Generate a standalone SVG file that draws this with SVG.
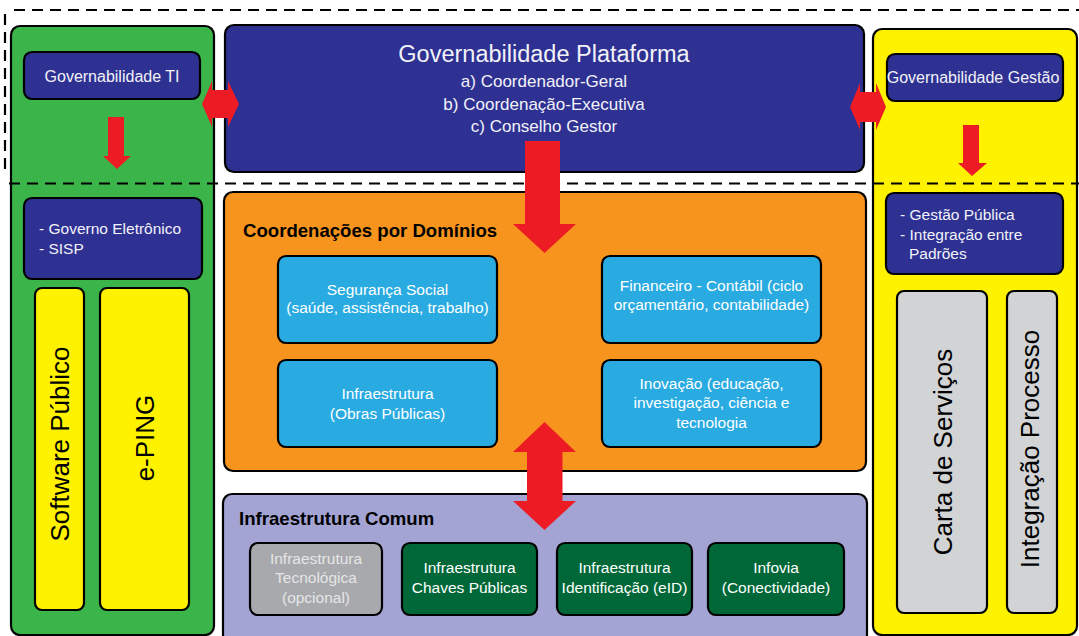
<svg xmlns="http://www.w3.org/2000/svg" width="1079" height="636" viewBox="0 0 1079 636">
<style>
  .box { stroke: #000; stroke-width: 2.2; }
  .navy { fill: #2E3192; }
  .t { font-family: "Liberation Sans", Arial, sans-serif; }
  .wt { fill: #F2F2F8; }
  .dash { stroke: #000; stroke-width: 2.2; stroke-dasharray: 11 7; fill: none; }
  .arrow { fill: #ED1C24; }
  .lb { fill: #29ABE2; }
  .dg { fill: #006838; }
</style>
<rect x="0" y="0" width="1079" height="636" fill="#fff"/>

<!-- big containers -->
<g id="ti-column">
  <rect class="box" x="11" y="26" width="203" height="609" rx="9" fill="#3BB54A"/>
</g>
<g id="gestao-column">
  <rect class="box" x="873" y="29" width="204" height="606" rx="9" fill="#FFF200"/>
</g>
<g id="plataforma">
  <rect class="box navy" x="225" y="25" width="639" height="147" rx="9"/>
  <text class="t wt" x="544" y="62" font-size="23.5" text-anchor="middle">Governabilidade Plataforma</text>
  <text class="t wt" x="544" y="87" font-size="17" text-anchor="middle">a) Coordenador-Geral</text>
  <text class="t wt" x="544" y="110" font-size="17" text-anchor="middle">b) Coordenação-Executiva</text>
  <text class="t wt" x="544" y="132" font-size="17" text-anchor="middle">c) Conselho Gestor</text>
</g>
<g id="coordenacoes">
  <rect class="box" x="224" y="192" width="642" height="279" rx="9" fill="#F7941D"/>
  <text class="t" x="243" y="237" font-size="18.6" font-weight="bold" fill="#000">Coordenações por Domínios</text>
</g>
<g id="infra-comum">
  <rect class="box" x="223" y="494" width="644" height="150" rx="9" fill="#A3A4D3"/>
  <text class="t" x="239" y="525" font-size="18.6" font-weight="bold" fill="#000">Infraestrutura Comum</text>
</g>

<!-- dashed frame -->
<g id="dashed-lines">
  <line class="dash" x1="14" y1="10" x2="1079" y2="10"/>
  <line class="dash" x1="5" y1="14" x2="5" y2="176"/>
  <line class="dash" x1="9" y1="183.5" x2="1079" y2="183.5"/>
</g>

<!-- inner nodes -->
<g id="gov-ti">
  <rect class="box navy" x="24" y="52" width="176" height="47" rx="8"/>
  <text class="t wt" x="112" y="82" font-size="16" text-anchor="middle">Governabilidade TI</text>
</g>
<g id="gov-eletronico">
  <rect class="box navy" x="24" y="198" width="178" height="81" rx="8"/>
  <text class="t wt" x="39" y="234" font-size="15.5">- Governo Eletrônico</text>
  <text class="t wt" x="39" y="254" font-size="15.5">- SISP</text>
</g>
<g id="software-publico">
  <rect class="box" x="35" y="288" width="49" height="322" rx="7" fill="#FFF200"/>
  <text class="t" transform="translate(69,444) rotate(-90)" font-size="26" text-anchor="middle" fill="#000">Software Público</text>
</g>
<g id="e-ping">
  <rect class="box" x="100" y="288" width="89" height="322" rx="7" fill="#FFF200"/>
  <text class="t" transform="translate(154,438) rotate(-90)" font-size="26" text-anchor="middle" fill="#000">e-PING</text>
</g>

<g id="gov-gestao">
  <rect class="box navy" x="887" y="54" width="176" height="47" rx="8"/>
  <text class="t wt" x="973" y="83" font-size="16" text-anchor="middle">Governabilidade Gestão</text>
</g>
<g id="gestao-publica">
  <rect class="box navy" x="886" y="193" width="177" height="81" rx="8"/>
  <text class="t wt" x="900" y="220" font-size="15.5">- Gestão Pública</text>
  <text class="t wt" x="900" y="240" font-size="15.5">- Integração entre</text>
  <text class="t wt" x="909" y="259" font-size="15.5">Padrões</text>
</g>
<g id="carta-servicos">
  <rect class="box" x="897" y="291" width="90" height="322" rx="7" fill="#D1D3D4"/>
  <text class="t" transform="translate(952,452) rotate(-90)" font-size="26" text-anchor="middle" fill="#000">Carta de Serviços</text>
</g>
<g id="integracao-processo">
  <rect class="box" x="1007" y="291" width="50" height="322" rx="7" fill="#D1D3D4"/>
  <text class="t" transform="translate(1039,449) rotate(-90)" font-size="26" text-anchor="middle" fill="#000">Integração Processo</text>
</g>

<g id="seguranca-social">
  <rect class="box lb" x="278" y="256" width="219" height="87" rx="8"/>
  <text class="t" x="387.5" y="295" font-size="15.5" text-anchor="middle" fill="#fff">Segurança Social</text>
  <text class="t" x="387.5" y="313" font-size="15.5" text-anchor="middle" fill="#fff">(saúde, assistência, trabalho)</text>
</g>
<g id="financeiro">
  <rect class="box lb" x="602" y="256" width="219" height="87" rx="8"/>
  <text class="t" x="711.5" y="291" font-size="15.5" text-anchor="middle" fill="#fff">Financeiro - Contábil (ciclo</text>
  <text class="t" x="711.5" y="310" font-size="15.5" text-anchor="middle" fill="#fff">orçamentário, contabilidade)</text>
</g>
<g id="infra-obras">
  <rect class="box lb" x="278" y="360" width="219" height="87" rx="8"/>
  <text class="t" x="387.5" y="399" font-size="15.5" text-anchor="middle" fill="#fff">Infraestrutura</text>
  <text class="t" x="387.5" y="419" font-size="15.5" text-anchor="middle" fill="#fff">(Obras Públicas)</text>
</g>
<g id="inovacao">
  <rect class="box lb" x="602" y="360" width="219" height="87" rx="8"/>
  <text class="t" x="711.5" y="389" font-size="15.5" text-anchor="middle" fill="#fff">Inovação (educação,</text>
  <text class="t" x="711.5" y="408" font-size="15.5" text-anchor="middle" fill="#fff">investigação, ciência e</text>
  <text class="t" x="711.5" y="428" font-size="15.5" text-anchor="middle" fill="#fff">tecnologia</text>
</g>

<g id="infra-tecnologica">
  <rect class="box" x="250" y="543" width="132" height="72" rx="8" fill="#A7A9AC"/>
  <text class="t" x="316" y="564" font-size="15.5" text-anchor="middle" fill="#E6E6E6">Infraestrutura</text>
  <text class="t" x="316" y="583" font-size="15.5" text-anchor="middle" fill="#E6E6E6">Tecnológica</text>
  <text class="t" x="316" y="603" font-size="15.5" text-anchor="middle" fill="#E6E6E6">(opcional)</text>
</g>
<g id="infra-chaves">
  <rect class="box dg" x="402" y="543" width="135" height="72" rx="8"/>
  <text class="t" x="469.5" y="573" font-size="15.5" text-anchor="middle" fill="#fff">Infraestrutura</text>
  <text class="t" x="469.5" y="593" font-size="15.5" text-anchor="middle" fill="#fff">Chaves Públicas</text>
</g>
<g id="infra-identificacao">
  <rect class="box dg" x="557" y="543" width="135" height="72" rx="8"/>
  <text class="t" x="624.5" y="573" font-size="15.5" text-anchor="middle" fill="#fff">Infraestrutura</text>
  <text class="t" x="624.5" y="593" font-size="15.5" text-anchor="middle" fill="#fff">Identificação (eID)</text>
</g>
<g id="infovia">
  <rect class="box dg" x="708" y="543" width="136" height="72" rx="8"/>
  <text class="t" x="776" y="573" font-size="15.5" text-anchor="middle" fill="#fff">Infovia</text>
  <text class="t" x="776" y="593" font-size="15.5" text-anchor="middle" fill="#fff">(Conectividade)</text>
</g>

<!-- connectors -->
<g id="connectors">
  <path class="arrow" d="M108,117 H124 V156 H131 L117,169 L103,156 H108 Z"/>
  <path class="arrow" d="M963,125 H979 V163 H987 L972,176 L958,163 H963 Z"/>
  <path class="arrow" d="M202,104 L212,81 V90 H228 V81 L239,104 L228,127 V118 H212 V127 Z"/>
  <path class="arrow" d="M850,107 L860,83 V92 H876 V83 L886,107 L876,130 V122 H860 V130 Z"/>
  <path class="arrow" d="M525,141 H560 V224 H576 L544.5,253 L513,224 H525 Z"/>
  <path class="arrow" d="M544.5,422 L576,452 H562.5 V501 H576 L544.5,530 L513,501 H527 V452 H513 Z"/>
</g>
</svg>
